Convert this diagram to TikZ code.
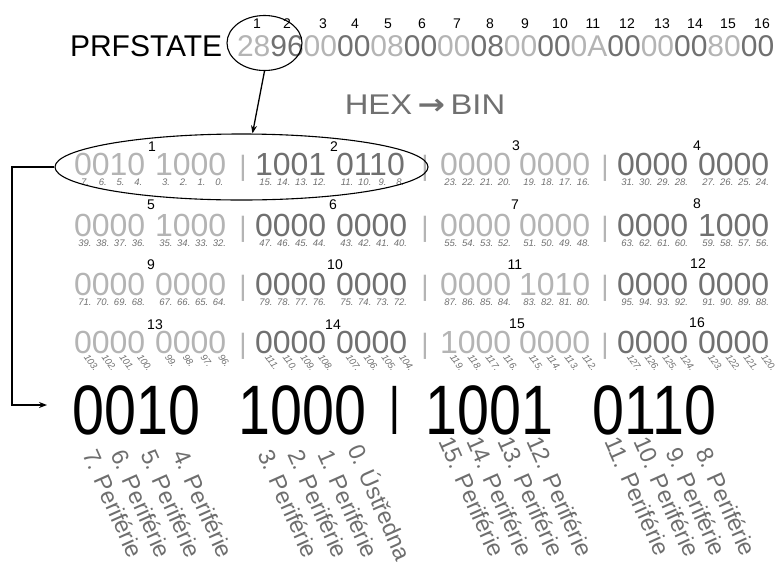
\documentclass[tikz,border=0pt]{standalone}
\usepackage{fontspec}
\setmainfont{Liberation Sans}
\newfontfamily\dejavu{DejaVu Sans}
\usepackage{graphicx}
\usetikzlibrary{shapes.geometric,arrows.meta,calc}
\definecolor{lg}{HTML}{B4B4B4}
\definecolor{dg}{HTML}{707070}
\definecolor{tg}{HTML}{6E6E6E}
\begin{document}
\begin{tikzpicture}[x=1pt,y=-1pt,
  txt/.style={inner sep=0pt, outer sep=0pt},
  hexfont/.style={txt, font=\fontsize{30}{30}\selectfont, anchor=base west},
  idx/.style={txt, font=\fontsize{14}{14}\selectfont},
  nib/.style={txt, font=\fontsize{32}{32}\selectfont, anchor=base west},
  sep/.style={txt, font=\fontsize{28}{28}\selectfont, anchor=base, text=lg},
  bitlab/.style={txt, font=\fontsize{9.5}{9.5}\selectfont\itshape, text=dg},
  big/.style={txt, font=\fontsize{70}{70}\selectfont, anchor=base west},
  per/.style={txt, font=\fontsize{23.5}{23.5}\selectfont, text=tg, anchor=base west, rotate=-66},
  ring/.style={draw, ellipse, line width=1.1pt, inner sep=0pt},
  arr/.style={line width=1.3pt, -{Stealth[length=8pt,width=6pt]}}
]
\useasboundingbox (0,0) rectangle (778,563);

% top line
\node[hexfont] (prf) at (70,56) {PRFSTATE};
\node[hexfont] (hex) at (237,56) {\color{lg}28\color{dg}96\color{lg}00\color{dg}00\color{lg}08\color{dg}00\color{lg}00\color{dg}08\color{lg}00\color{dg}00\color{lg}0A\color{dg}00\color{lg}00\color{dg}00\color{lg}80\color{dg}00};
\foreach \i/\x in {1/257,2/287,3/323,4/355,5/388,6/422,7/457,8/490,9/525,10/560,11/593,12/627,13/662,14/695,15/728,16/762}
  \node[idx] (top\i) at (\x,24) {\i};

\node[txt, font=\fontsize{28.5}{28.5}\selectfont, text=dg] (hb) at (425,105) {\scalebox{1.15}[1]{HEX\,{\dejavu\bfseries →}\,BIN}};

% grid
\foreach \n/\xa/\xb/\c/\y/\ly/\lx/\na/\nb in {
 1/74/155/lg/175/147/152/0010/1000,
 2/255/336/dg/175/147/334/1001/0110,
 3/440/519/lg/175/146/516/0000/0000,
 4/617/698/dg/175/146/697/0000/0000,
 5/74/155/lg/236/205/151/0000/1000,
 6/255/336/dg/236/205/333/0000/0000,
 7/440/519/lg/236/205/515/0000/0000,
 8/617/698/dg/236/204/697/0000/1000,
 9/74/155/lg/295/265/151/0000/0000,
 10/255/336/dg/295/265/335/0000/0000,
 11/440/519/lg/295/265/515/0000/1010,
 12/617/698/dg/295/264/698/0000/0000,
 13/74/155/lg/353/325/155/0000/0000,
 14/255/336/dg/353/325/333/0000/0000,
 15/440/519/lg/353/324/517/1000/0000,
 16/617/698/dg/353/323/697/0000/0000}
{
 \node[nib, text=\c] (n\n-a) at (\xa,\y) {\na};
 \node[nib, text=\c] (n\n-b) at (\xb,\y) {\nb};
 \node[idx] (l\n) at (\lx,\ly) {\n};
 \pgfmathtruncatemacro\hb{8*\n-1}
 \foreach \i in {0,...,3} {
   \pgfmathtruncatemacro\ba{\hb-\i}
   \pgfmathtruncatemacro\bb{\hb-4-\i}
   \ifnum\n>12
     \node[bitlab, rotate=-55, anchor=base west] (t\n-a\i) at (\xa+9.5+17.8*\i,\y+4) {\ba.};
     \node[bitlab, rotate=-55, anchor=base west] (t\n-b\i) at (\xb+9.5+17.8*\i,\y+4) {\bb.};
   \else
     \node[bitlab] (t\n-a\i) at (\xa+11+17.8*\i,\y+7.5) {\ba.};
     \node[bitlab] (t\n-b\i) at (\xb+11+17.8*\i,\y+7.5) {\bb.};
   \fi
 }
}
\foreach \y in {175,236,295,353}
  \foreach \x in {243,425,605}
    \node[sep] (s\x-\y) at (\x,\y) {|};

% big line
\node[big] (b1) at (72.6,434) {\scalebox{0.82}[1]{0010}};
\node[big] (b2) at (238.7,434) {\scalebox{0.82}[1]{1000}};
\node[big, anchor=base] (b3) at (395,434) {\scalebox{0.55}[1]{I}};
\node[big] (b4) at (425.7,434) {\scalebox{0.82}[1]{1001}};
\node[big] (b5) at (592.6,434) {\scalebox{0.82}[1]{0110}};

% rotated labels
\foreach \t/\x/\y in {7/82/454, 6/110/454, 5/140/454, 4/172/454, 3/257/454, 2/287/454, 1/317/454, 15/438/441, 14/466/441, 13/497/441, 12/526/441, 11/604/441, 10/633/441, 9/665/452, 8/695/452}
  \node[per] (p\t) at (\x,\y) {\t. Periférie};
\node[per] (p0) at (347,449) {0. Ústředna};

% ellipses and connectors
\node[ring, minimum width=75, minimum height=55] (e1) at (264.5,43) {};
\node[ring, minimum width=373, minimum height=66] (e2) at (241.5,167) {};
\draw[arr] (e1.south) -- ([xshift=11pt]e2.north);
\coordinate (c1) at (12,405);
\coordinate (tip) at (47,405);
\draw[arr] (e2.west) -| (c1) -- (tip);
\end{tikzpicture}
\end{document}
